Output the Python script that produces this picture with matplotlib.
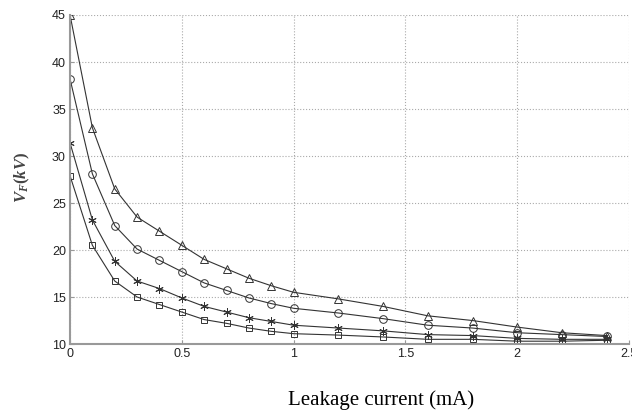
import matplotlib
matplotlib.use('Agg')
import matplotlib.pyplot as plt
import numpy as np

plt.rcParams['mathtext.fontset'] = 'custom'
plt.rcParams['mathtext.it'] = 'Liberation Serif:italic:bold'
plt.rcParams['mathtext.rm'] = 'Liberation Serif:bold'

# leakage current (mA)
current = [0, 0.1, 0.2, 0.3, 0.4, 0.5, 0.6, 0.7, 0.8, 0.9, 1.0,
           1.2, 1.4, 1.6, 1.8, 2.0, 2.2, 2.4]

# flashover voltage (kV) for the four cases
vf_tri = [45.0, 33.0, 26.5, 23.5, 22.0, 20.5, 19.0, 18.0, 17.0, 16.2, 15.5,
          14.8, 14.0, 13.0, 12.5, 11.8, 11.2, 10.9]
vf_circ = [38.2, 28.1, 22.6, 20.1, 18.9, 17.7, 16.5, 15.7, 14.9, 14.3, 13.8,
           13.3, 12.7, 12.0, 11.7, 11.2, 11.0, 10.8]
vf_star = [31.4, 23.2, 18.8, 16.7, 15.9, 14.9, 14.0, 13.4, 12.8, 12.4, 12.0,
           11.7, 11.4, 11.0, 10.9, 10.6, 10.5, 10.5]
vf_sq = [27.9, 20.5, 16.7, 15.0, 14.2, 13.4, 12.6, 12.2, 11.7, 11.35, 11.1,
         10.95, 10.75, 10.5, 10.5, 10.3, 10.3, 10.4]

fig = plt.figure(figsize=(6.32, 4.12), dpi=100)
ax = fig.add_axes([0.1108, 0.165, 0.8845, 0.7986])

style = dict(color='#333333', lw=0.8, mfc='none', mec='#333333', mew=0.7)
ax.plot(current, vf_tri, marker='^', ms=6, **style)
ax.plot(current, vf_circ, marker='o', ms=5.5, **style)
ax.plot(current, vf_star, marker=(6, 2, 0), ms=6, **style)
ax.plot(current, vf_sq, marker='s', ms=5, **style)

ax.set_xlim(0, 2.5)
ax.set_ylim(10, 45)
ax.set_xticks([0, 0.5, 1, 1.5, 2, 2.5])
ax.set_xticklabels(['0', '0.5', '1', '1.5', '2', '2.5'])
ax.set_yticks(np.arange(10, 46, 5))
ax.grid(True, linestyle=':', color='#aaaaaa', lw=0.8)

for s in ['top', 'right']:
    ax.spines[s].set_visible(False)
for s in ['left', 'bottom']:
    ax.spines[s].set_color('#999999')
    ax.spines[s].set_linewidth(1.5)

ax.tick_params(direction='in', length=3, color='#999999', labelsize=9,
               pad=3, labelcolor='#222222')
for lbl in ax.get_xticklabels() + ax.get_yticklabels():
    lbl.set_family('Liberation Sans')

fig.text(0.603, 0.017, 'Leakage current (mA)', ha='center', va='baseline',
         fontsize=15, family='Liberation Serif')
fig.text(0.036, 0.57, r'$V_F(kV)$', rotation=90, ha='center', va='center',
         fontsize=12, color='#444444')

fig.savefig('out.png', dpi=100)
